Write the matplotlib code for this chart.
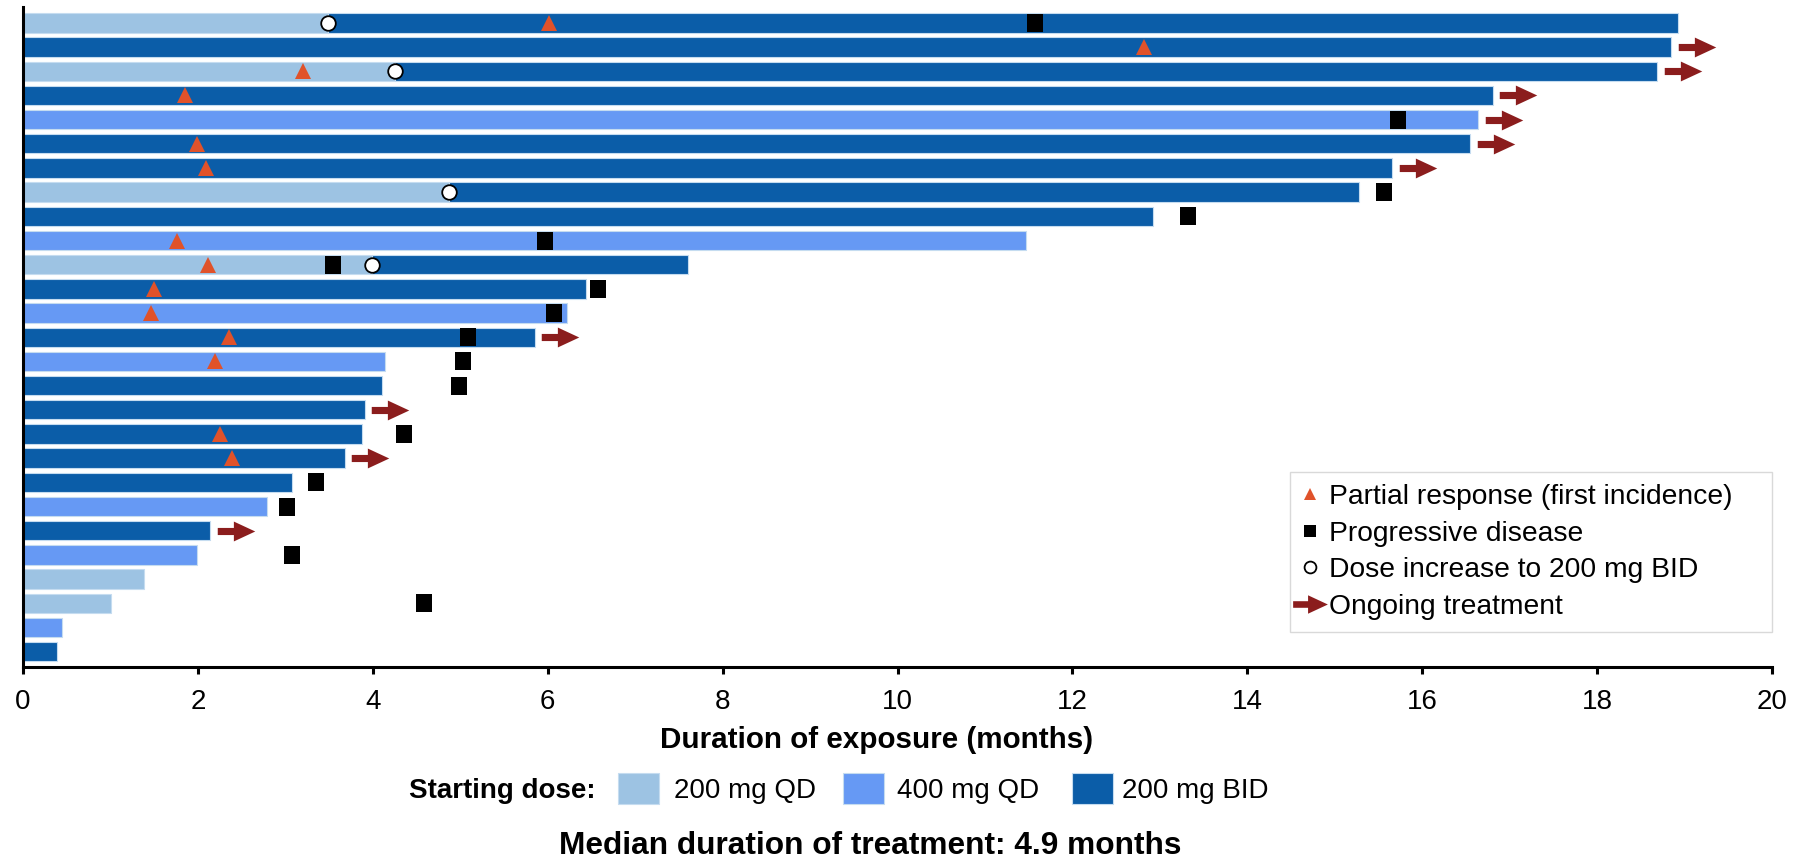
import matplotlib
matplotlib.use("Agg")
import matplotlib.pyplot as plt
from matplotlib.path import Path
from matplotlib.patches import Rectangle
from matplotlib.lines import Line2D
import numpy as np

plt.rcParams['font.family'] = ['Liberation Sans', 'DejaVu Sans']

# ---------------- data (top row first) ----------------
start_dose = ['QD200', 'BID200', 'QD200', 'BID200', 'QD400', 'BID200', 'BID200', 'QD200', 'BID200',
              'QD400', 'QD200', 'BID200', 'QD400', 'BID200', 'QD400', 'BID200', 'BID200', 'BID200',
              'BID200', 'BID200', 'QD400', 'BID200', 'QD400', 'QD200', 'QD200', 'QD400', 'BID200']
duration = [18.92, 18.85, 18.69, 16.81, 16.64, 16.55, 15.66, 15.28, 12.92,
            11.47, 7.60, 6.44, 6.22, 5.85, 4.14, 4.11, 3.91, 3.88,
            3.68, 3.08, 2.79, 2.14, 1.99, 1.38, 1.01, 0.45, 0.39]
dose_increase = [3.49, None, 4.25, None, None, None, None, 4.87, None,
                 None, 3.99, None, None, None, None, None, None, None,
                 None, None, None, None, None, None, None, None, None]
partial_response = [6.01, 12.82, 3.20, 1.85, None, 1.99, 2.09, None, None,
                    1.76, 2.12, 1.50, 1.46, 2.36, 2.19, None, None, 2.25,
                    2.39, None, None, None, None, None, None, None, None]
progressive = [11.57, None, None, None, 15.72, None, None, 15.56, 13.32,
               5.97, 3.55, 6.57, 6.07, 5.09, 5.03, 4.99, None, 4.36,
               None, 3.35, 3.02, None, 3.08, None, 4.59, None, None]
ongoing = [False, True, True, True, True, True, True, False, False,
           False, False, False, False, True, False, False, True, False,
           True, False, False, True, False, False, False, False, False]

dose_labels = {'QD200': '200 mg QD', 'QD400': '400 mg QD', 'BID200': '200 mg BID'}
dose_colors = {'QD200': '#9DC3E3', 'QD400': '#6699F4', 'BID200': '#0B5DA8'}
x_ticks = [0, 2, 4, 6, 8, 10, 12, 14, 16, 18, 20]

W, H = 1796, 860
fig = plt.figure(figsize=(W / 100, H / 100), dpi=100)
ax = fig.add_axes([23 / W, 1 - 666.7 / H, (1772 - 23) / W, (666.7 - 6.7) / H])

n = len(duration)
rows = np.arange(n)
bar_h = 0.8
edge = '#C5DCF0'

for i in range(n):
    d0 = start_dose[i]
    if dose_increase[i] is not None:
        ax.barh(rows[i], dose_increase[i], left=0, height=bar_h, color=dose_colors[d0],
                edgecolor=edge, linewidth=0.8, zorder=2)
        ax.barh(rows[i], duration[i] - dose_increase[i], left=dose_increase[i], height=bar_h,
                color=dose_colors['BID200'], edgecolor=edge, linewidth=0.8, zorder=2)
    else:
        ax.barh(rows[i], duration[i], left=0, height=bar_h, color=dose_colors[d0],
                edgecolor=edge, linewidth=0.8, zorder=2)

# markers
arrow_path = Path([(-1, 0.19), (-0.14, 0.19), (-0.14, 0.53), (1, 0), (-0.14, -0.53),
                   (-0.14, -0.19), (-1, -0.19), (-1, 0.19)],
                  [Path.MOVETO] + [Path.LINETO] * 6 + [Path.CLOSEPOLY])
rect_path = Path([(-0.42, -0.5), (0.42, -0.5), (0.42, 0.5), (-0.42, 0.5), (-0.42, -0.5)],
                 [Path.MOVETO] + [Path.LINETO] * 3 + [Path.CLOSEPOLY])

pr_y = [r for r, v in zip(rows, partial_response) if v is not None]
pr_x = [v for v in partial_response if v is not None]
pd_y = [r for r, v in zip(rows, progressive) if v is not None]
pd_x = [v for v in progressive if v is not None]
di_y = [r for r, v in zip(rows, dose_increase) if v is not None]
di_x = [v for v in dose_increase if v is not None]
og_y = [r for r, v in zip(rows, ongoing) if v]
og_x = [d + 0.29 for d, v in zip(duration, ongoing) if v]

tri_color = '#E0522A'
arr_color = '#8B1D1D'
ax.plot(pr_x, pr_y, linestyle='none', marker='^', markersize=11, color=tri_color,
        markeredgewidth=0, zorder=4)
ax.plot(pd_x, pd_y, linestyle='none', marker=rect_path, markersize=13, color='black',
        markeredgewidth=0, zorder=4)
ax.plot(di_x, di_y, linestyle='none', marker='o', markersize=10.5, markerfacecolor='white',
        markeredgecolor='black', markeredgewidth=1.3, zorder=4)
ax.plot(og_x, og_y, linestyle='none', marker=arrow_path, markersize=27, color=arr_color,
        markeredgewidth=0, zorder=4)

ax.set_xlim(0, 20)
ax.set_ylim(n - 1 + 0.625, -0.67)
ax.set_xticks(x_ticks)
ax.set_xticklabels([str(t) for t in x_ticks], fontsize=20)
ax.set_yticks([])
for s in ['top', 'right']:
    ax.spines[s].set_visible(False)
for s in ['left', 'bottom']:
    ax.spines[s].set_linewidth(2.2)
    ax.spines[s].set_color('black')
ax.tick_params(axis='x', direction='out', length=5, width=2.2, pad=11)

# legend of events
handles = [
    Line2D([], [], linestyle='none', marker='^', markersize=9, color=tri_color, markeredgewidth=0),
    Line2D([], [], linestyle='none', marker='s', markersize=8.5, color='black', markeredgewidth=0),
    Line2D([], [], linestyle='none', marker='o', markersize=8.5, markerfacecolor='white',
           markeredgecolor='black', markeredgewidth=1.3),
    Line2D([], [], linestyle='none', marker=arrow_path, markersize=25, color=arr_color,
           markeredgewidth=0),
]
labels = ['Partial response (first incidence)', 'Progressive disease',
          'Dose increase to 200 mg BID', 'Ongoing treatment']
leg = ax.legend(handles, labels, loc='upper left',
                bbox_to_anchor=(1290 / W, 1 - 472 / H, (1772 - 1290) / W, 0),
                bbox_transform=fig.transFigure, mode='expand',
                fontsize=20.3, frameon=True, fancybox=False, edgecolor='#D9D9D9',
                framealpha=1, borderpad=0.42, labelspacing=0.38, handlelength=0.6,
                handletextpad=0.35, borderaxespad=0)
leg.get_frame().set_linewidth(1.0)

# x label
fig.text(877 / W, 1 - 740 / H, 'Duration of exposure (months)', fontsize=21.3, fontweight='bold',
         ha='center', va='center')

# starting dose legend
yc = 791
fig.text(409 / W, 1 - yc / H, 'Starting dose:', fontsize=20, fontweight='bold',
         ha='left', va='center')
patch_x = [618, 843, 1072]
text_x = [674, 897, 1122]
for key, px, tx in zip(['QD200', 'QD400', 'BID200'], patch_x, text_x):
    fig.patches.append(Rectangle((px / W, 1 - 804 / H), 41 / W, 31 / H,
                                 transform=fig.transFigure, facecolor=dose_colors[key],
                                 edgecolor=edge, linewidth=0.8))
    fig.text(tx / W, 1 - yc / H, dose_labels[key], fontsize=20, ha='left', va='center')

fig.text(870 / W, 1 - 846 / H, 'Median duration of treatment: 4.9 months', fontsize=22.8,
         fontweight='bold', ha='center', va='center')

fig.savefig('out.png', dpi=100)
